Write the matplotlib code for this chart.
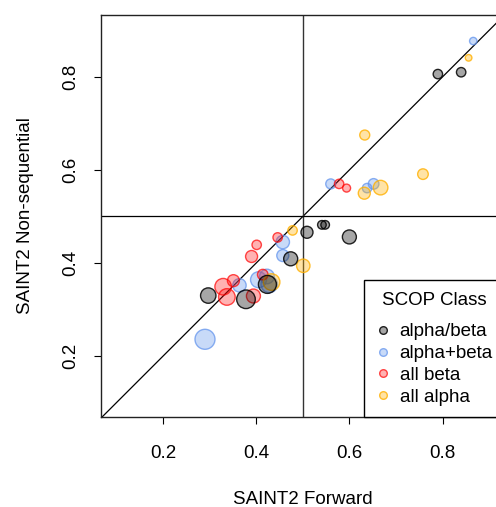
import matplotlib
matplotlib.use('Agg')
import matplotlib.pyplot as plt
from matplotlib.lines import Line2D

plt.rcParams['font.family'] = ['Liberation Sans', 'DejaVu Sans']

# SCOP classes, in legend order
classes = ['alpha/beta', 'alpha+beta', 'all beta', 'all alpha']
base_colors = ['#000000', '#6495ED', '#FF0000', '#FFB000']

# forward score, non-sequential score, marker radius (px) per class
ab_x = [0.790, 0.840, 0.541, 0.548, 0.509, 0.600, 0.474, 0.424, 0.297, 0.378]
ab_y = [0.806, 0.810, 0.482, 0.482, 0.466, 0.456, 0.409, 0.354, 0.330, 0.322]
ab_r = [4.7, 4.7, 4.3, 4.3, 6.0, 7.0, 7.0, 9.0, 7.7, 9.3]

apb_x = [0.866, 0.560, 0.652, 0.638, 0.457, 0.457, 0.405, 0.423, 0.428, 0.364, 0.290]
apb_y = [0.877, 0.570, 0.570, 0.561, 0.416, 0.445, 0.364, 0.371, 0.354, 0.352, 0.236]
apb_r = [3.7, 5.0, 5.3, 4.7, 6.0, 6.7, 8.0, 7.3, 8.3, 6.7, 10.0]

beta_x = [0.578, 0.594, 0.446, 0.401, 0.390, 0.414, 0.351, 0.329, 0.337, 0.394]
beta_y = [0.570, 0.561, 0.455, 0.439, 0.414, 0.375, 0.362, 0.349, 0.327, 0.329]
beta_r = [4.7, 4.0, 4.7, 4.7, 6.0, 5.3, 6.0, 8.3, 8.3, 7.0]

alpha_x = [0.856, 0.633, 0.758, 0.667, 0.632, 0.478, 0.501, 0.433]
alpha_y = [0.841, 0.675, 0.591, 0.562, 0.550, 0.470, 0.394, 0.359]
alpha_r = [3.3, 5.0, 5.3, 7.3, 6.0, 4.7, 6.7, 8.3]

series = [(ab_x, ab_y, ab_r), (apb_x, apb_y, apb_r),
          (beta_x, beta_y, beta_r), (alpha_x, alpha_y, alpha_r)]

W, H = 496, 507
fig = plt.figure(figsize=(W / 100, H / 100), dpi=100)
# plot region runs past the right edge of the image, like the original
ax = fig.add_axes([101 / W, (H - 417) / H, (504 - 101) / W, (417 - 15) / H])

fill_alpha = [0.35, 0.35, 0.3, 0.35]
edge_alpha = [0.85, 0.75, 0.7, 0.8]

order = [1, 2, 3, 0]  # draw blue, red, orange then grey on top
for i in order:
    xs, ys, rs = series[i]
    sizes = [(2 * r * 0.72) ** 2 for r in rs]
    ax.scatter(xs, ys, s=sizes, facecolor=matplotlib.colors.to_rgba(base_colors[i], fill_alpha[i]),
               edgecolor=matplotlib.colors.to_rgba(base_colors[i], edge_alpha[i]), linewidth=1.0, zorder=3)

ax.set_xlim(0.0667, 0.932)
ax.set_ylim(0.069, 0.933)
ax.plot([0, 1], [0, 1], color='black', linewidth=0.9, zorder=2)
ax.axvline(0.5, color='#333333', linewidth=1.0, zorder=2)
ax.axhline(0.5, color='black', linewidth=0.9, zorder=2)

ax.set_xticks([0.2, 0.4, 0.6, 0.8])
ax.set_yticks([0.2, 0.4, 0.6, 0.8])
ax.set_xticklabels(['0.2', '0.4', '0.6', '0.8'])
ax.set_yticklabels(['0.2', '0.4', '0.6', '0.8'], rotation=90, va='center')
ax.tick_params(direction='out', length=5, width=0.8, labelsize=13.5)
ax.tick_params(axis='x', pad=15)
ax.tick_params(axis='y', pad=11)
for sp in ax.spines.values():
    sp.set_linewidth(1.0)
    sp.set_color('#222222')

ax.set_xlabel('SAINT2 Forward', fontsize=13.5, labelpad=21)
ax.set_ylabel('SAINT2 Non-sequential', fontsize=13.5, labelpad=20)

handles = []
for i in range(4):
    handles.append(Line2D([], [], linestyle='none', marker='o', markersize=5.5,
                          markerfacecolor=matplotlib.colors.to_rgba(base_colors[i], fill_alpha[i]),
                          markeredgecolor=matplotlib.colors.to_rgba(base_colors[i], edge_alpha[i]),
                          markeredgewidth=1.0))
leg = ax.legend(handles, classes, title='SCOP Class', loc='lower right',
                bbox_to_anchor=(1.0, 0.0), borderaxespad=0, fancybox=False,
                edgecolor='black', framealpha=1, fontsize=13.5, title_fontsize=13.5,
                handletextpad=0.5, labelspacing=0.25, borderpad=0.6, handlelength=0.8)
leg.get_frame().set_linewidth(1.0)
# extra room between the title and the entries
leg._legend_box.sep = 10.5

fig.savefig('out.png', dpi=100)
